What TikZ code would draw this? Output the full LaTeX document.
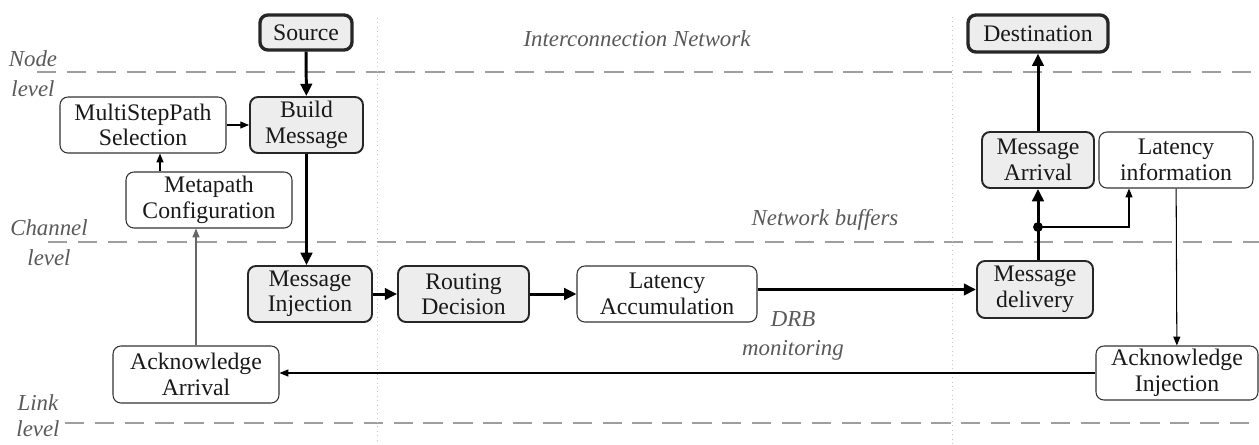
\documentclass[tikz,border=0pt]{standalone}
\usepackage{fontspec}
\setmainfont{Liberation Serif}
\usetikzlibrary{arrows.meta}
\definecolor{boxfill}{gray}{0.93}
\definecolor{levelgray}{gray}{0.62}
\newcommand\boxfont{\fontsize{13.5}{14.5}\selectfont}
\newcommand\notefont{\fontsize{13}{15}\selectfont\itshape}
\tikzset{
  plainbox/.style={draw=black!80, line width=0.6pt, rounded corners=4.5pt,
    align=center, font=\boxfont, inner sep=0pt, text=black!90},
  keybox/.style={plainbox, fill=boxfill, line width=1.1pt, draw=black!85},
  endbox/.style={keybox, line width=1.9pt},
  mainflow/.style={line width=1.7pt, -{Triangle[length=7pt,width=6.5pt]}},
  sideflow/.style={line width=0.6pt, -{Triangle[length=5pt,width=4pt]}},
  levelline/.style={levelgray, line width=1.4pt, dash pattern=on 11pt off 6pt},
  regionline/.style={gray!45, line width=0.5pt, dotted},
  note/.style={font=\notefont, text=black!65, align=center, inner sep=0pt}
}
\begin{document}
\begin{tikzpicture}[x=0.02cm, y=-0.02cm]
\useasboundingbox (0,0) rectangle (1259,444);

% level separators and region borders
\coordinate (nodeL) at (37,72);   \coordinate (nodeR) at (1259,72);
\coordinate (chanL) at (48,242);  \coordinate (chanR) at (1259,242);
\coordinate (linkL) at (65,423);  \coordinate (linkR) at (1259,423);
\draw[levelline] (nodeL) -- (nodeR);
\draw[levelline] (chanL) -- (chanR);
\draw[levelline] (linkL) -- (linkR);
\coordinate (netT) at (377,18);   \coordinate (netB) at (377,444);
\coordinate (dstT) at (952,17);   \coordinate (dstB) at (952,444);
\draw[regionline] (netT) -- (netB);
\draw[regionline] (dstT) -- (dstB);

% level and region labels
\node[note] (lvnode) at (33,74) {Node\\[2pt]level};
\node[note] (lvchan) at (49,243) {Channel\\[2pt]level};
\node[note] (lvlink) at (38,416) {Link\\level};
\node[note] (netlbl) at (637,39) {Interconnection Network};
\node[note] (buflbl) at (825,220) {Network buffers};
\node[note] (drblbl) at (793,336) {DRB\\[1pt]monitoring};

% source side
\node[endbox, minimum width=1.84cm, minimum height=0.70cm] (src) at (306,32.5) {Source};
\node[keybox, minimum width=2.26cm, minimum height=1.12cm] (build) at (306.5,125) {Build\\Message};
\node[plainbox, minimum width=3.32cm, minimum height=1.12cm] (msp) at (143,125) {MultiStepPath\\Selection};
\node[plainbox, minimum width=3.32cm, minimum height=1.12cm] (meta) at (209,200) {Metapath\\Configuration};
\node[keybox, minimum width=2.48cm, minimum height=1.12cm] (inj) at (310,294) {Message\\Injection};
\node[plainbox, minimum width=3.32cm, minimum height=1.14cm] (ackarr) at (196,374.5) {Acknowledge\\Arrival};

% network
\node[keybox, minimum width=2.62cm, minimum height=1.12cm] (rout) at (463.5,294) {Routing\\Decision};
\node[plainbox, minimum width=3.60cm, minimum height=1.12cm] (latacc) at (667,294) {Latency\\Accumulation};

% destination side
\node[keybox, minimum width=2.32cm, minimum height=1.14cm] (deliv) at (1035,289.5) {Message\\delivery};
\node[keybox, minimum width=2.24cm, minimum height=1.12cm] (arr) at (1038,160) {Message\\Arrival};
\node[plainbox, minimum width=3.08cm, minimum height=1.12cm] (latinfo) at (1176,160) {Latency\\information};
\node[endbox, minimum width=2.80cm, minimum height=0.74cm] (dest) at (1038,33.5) {Destination};
\node[plainbox, minimum width=3.24cm, minimum height=1.08cm] (ackinj) at (1177,373) {Acknowledge\\Injection};

% message path
\draw[mainflow] (src) -- (build);
\draw[mainflow] (build.south) -- (build.south |- inj.north);
\draw[mainflow] (inj) -- (rout);
\draw[mainflow] (rout) -- (latacc);
\draw[mainflow, line width=2pt] (latacc.east |- deliv.west) -- (deliv.west);
\coordinate (junc) at (1038,227);
\draw[mainflow] (deliv.north -| arr.south) -- (arr.south);
\fill (junc) circle (2.8pt);
\draw[mainflow] (arr) -- (dest);

% control and acknowledge path
\coordinate (mspin) at (160,0);
\coordinate (infoin) at (1129,0);
\draw[sideflow] (msp) -- (build);
\draw[sideflow] (meta.north -| mspin) -- (msp.south -| mspin);
\draw[sideflow] (junc) -| (latinfo.south -| infoin);
\draw[sideflow] (latinfo) -- (ackinj);
\draw[sideflow] (ackinj.west) -- (ackarr.east |- ackinj.west);
\draw[sideflow, draw=black!60, fill=black!60] (ackarr.north) -- (ackarr.north |- meta.south);
\end{tikzpicture}
\end{document}
